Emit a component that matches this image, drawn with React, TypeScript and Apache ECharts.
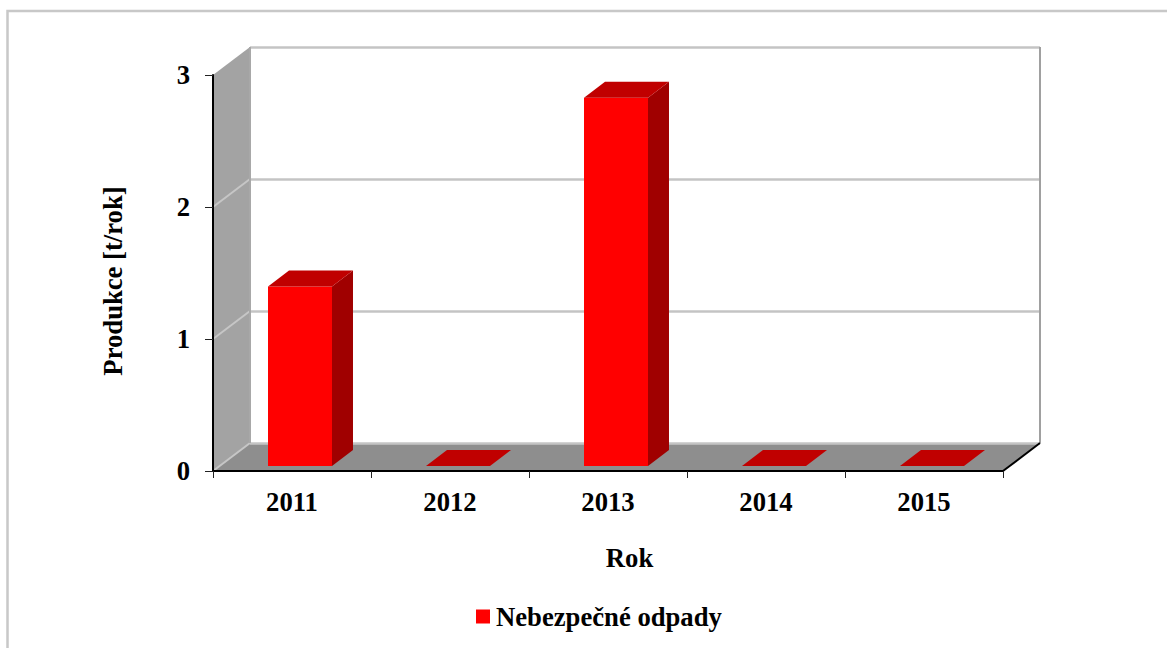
import React, { useEffect, useRef } from "react";
import * as echarts from "echarts";

const years = ["2011", "2012", "2013", "2014", "2015"];
const wasteValues = [1.36, 0, 2.79, 0, 0];
const yTicks = [0, 1, 2, 3];
const seriesName = "Nebezpečné odpady";
const xTitle = "Rok";
const yTitle = "Produkce [t/rok]";

const FONT = "'Liberation Serif', 'Times New Roman', serif";
const FS = 26.67;
const WALL = { dx: 37, dy: -28 };
const BAR = { dx: 21, dy: -16, inX: 8, inY: -5, ratio: 0.405 };

function renderWalls(_p: any, api: any) {
  const band = api.size([1, 0])[0];
  const [cx0, y0] = api.coord([0, 0]);
  const left = cx0 - band / 2;
  const right = left + band * years.length;
  const yTop = api.coord([0, yTicks[yTicks.length - 1]])[1];
  const { dx, dy } = WALL;
  const poly = (points: number[][], fill: string) => ({
    type: "polygon",
    shape: { points },
    style: { fill, stroke: "none" },
  });
  const line = (x1: number, y1: number, x2: number, y2: number, stroke: string, lineWidth = 2) => ({
    type: "line",
    shape: { x1, y1, x2, y2 },
    style: { stroke, lineWidth },
  });
  const children: any[] = [
    poly([[left, yTop], [left + dx, yTop + dy], [left + dx, y0 + dy], [left, y0]], "#a3a3a3"),
    poly([[left, y0], [left + dx, y0 + dy], [right + dx, y0 + dy], [right, y0]], "#8e8e8e"),
  ];
  yTicks.forEach((t) => {
    const y = api.coord([0, t])[1];
    if (t < 3) children.push(line(left, y, left + dx, y + dy, "#c6c6c6", 2));
    children.push(line(left + dx, y + dy + 0.5, right + dx, y + dy + 0.5, "#c4c4c4", 2.5));
  });
  children.push(line(left + dx, yTop + dy, left + dx, y0 + dy, "#a8a8a8", 2));
  children.push(line(right + dx, yTop + dy, right + dx, y0 + dy, "#a0a0a0", 2));
  children.push(line(right, y0, right + dx, y0 + dy, "#000000", 2));
  return { type: "group", children };
}

function renderBar(_p: any, api: any) {
  const idx = api.value(0);
  const val = api.value(1);
  const band = api.size([1, 0])[0];
  const w = band * BAR.ratio;
  const [cx, yBase] = api.coord([idx, 0]);
  const yVal = api.coord([idx, val])[1];
  const x0 = cx - w / 2 + BAR.inX;
  const x1 = x0 + w;
  const yb = yBase + BAR.inY;
  const yt = yVal + BAR.inY;
  const { dx, dy } = BAR;
  const children: any[] = [];
  if (yb - yt > 0.5) {
    children.push({
      type: "rect",
      shape: { x: x0, y: yt, width: w, height: yb - yt },
      style: { fill: "#ff0000" },
    });
    children.push({
      type: "polygon",
      shape: { points: [[x1, yb], [x1 + dx, yb + dy], [x1 + dx, yt + dy], [x1, yt]] },
      style: { fill: "#a00000" },
    });
  }
  children.push({
    type: "polygon",
    shape: { points: [[x0, yt], [x1, yt], [x1 + dx, yt + dy], [x0 + dx, yt + dy]] },
    style: { fill: "#c00000" },
  });
  return { type: "group", children };
}

export default function App() {
  const ref = useRef<HTMLDivElement>(null);
  useEffect(() => {
    const chart = echarts.init(ref.current!, null, { renderer: "svg" });
    chart.setOption({
      animation: false,
      backgroundColor: "#ffffff",
      graphic: [
        {
          type: "rect",
          silent: true,
          shape: { x: 7.5, y: 11, width: 1400, height: 900 },
          style: { fill: "none", stroke: "#c8c8c8", lineWidth: 2.5 },
        },
      ],
      grid: { left: 213, right: 164, top: 75, bottom: 177 },
      legend: {
        data: [seriesName],
        left: 476,
        top: 603,
        itemWidth: 14,
        itemHeight: 14,
        itemGap: 0,
        icon: "rect",
        padding: 0,
        textStyle: { fontFamily: FONT, fontWeight: "bold", fontSize: FS, color: "#000", padding: [3, 0, 0, 1] },
      },
      xAxis: {
        type: "category",
        data: years,
        z: 10,
        name: xTitle,
        nameLocation: "middle",
        nameGap: 73,
        nameTextStyle: { fontFamily: FONT, fontWeight: "bold", fontSize: FS, color: "#000", padding: [0, 0, 0, 43] },
        axisLine: { show: true, lineStyle: { color: "#000", width: 2 } },
        axisTick: { show: true, alignWithLabel: false, length: 7, lineStyle: { color: "#222", width: 1 } },
        axisLabel: { fontFamily: FONT, fontWeight: "bold", fontSize: FS, color: "#000", margin: 17 },
      },
      yAxis: {
        type: "value",
        min: 0,
        max: 3,
        interval: 1,
        z: 10,
        name: yTitle,
        nameLocation: "middle",
        nameGap: 87,
        nameTextStyle: { fontFamily: FONT, fontWeight: "bold", fontSize: FS, color: "#000", padding: [0, 16, 0, 0] },
        axisLine: { show: true, lineStyle: { color: "#000", width: 2 } },
        axisTick: { show: true, length: 8, lineStyle: { color: "#222", width: 1 } },
        axisLabel: { fontFamily: FONT, fontWeight: "bold", fontSize: FS, color: "#000", margin: 23 },
        splitLine: { show: false },
      },
      series: [
        {
          name: "walls",
          type: "custom",
          z: 1,
          silent: true,
          data: [[0, 0]],
          encode: { x: 0, y: 1 },
          renderItem: renderWalls,
        },
        {
          name: seriesName,
          type: "custom",
          z: 2,
          itemStyle: { color: "#ff0000" },
          data: wasteValues.map((v, i) => [i, v]),
          encode: { x: 0, y: 1 },
          renderItem: renderBar,
        },
      ],
    });
    return () => chart.dispose();
  }, []);
  return <div ref={ref} style={{ position: "fixed", left: 0, top: 0, width: 1167, height: 648 }} />;
}
